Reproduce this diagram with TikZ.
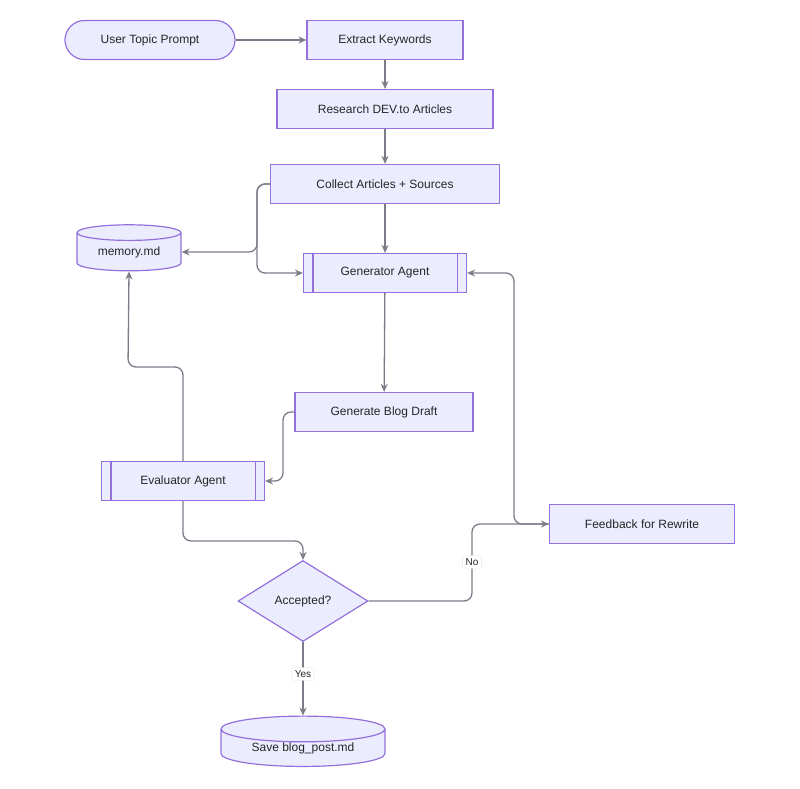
\documentclass[tikz,border=0pt]{standalone}
\usepackage{fontspec}
\setmainfont{Liberation Sans}
\usetikzlibrary{shapes.geometric,shapes.multipart,arrows.meta}
\definecolor{nfill}{HTML}{ECECFF}
\definecolor{nborder}{HTML}{9370DB}
\definecolor{lcol}{HTML}{7C7C88}
\begin{document}
\begin{tikzpicture}[x=1pt,y=-1pt,
 every node/.style={font=\fontsize{12}{14}\selectfont, text=black!85},
 box/.style={draw=nborder,fill=nfill,line width=1.2pt,minimum height=39pt,inner sep=0pt},
 stad/.style={box,rounded corners=19.5pt},
 cyl/.style={cylinder,shape border rotate=90,aspect=0.25,draw=nborder,fill=nfill,line width=1.2pt,inner sep=0pt},
 dia/.style={diamond,draw=nborder,fill=nfill,line width=1.2pt,minimum width=130pt,minimum height=81pt,inner sep=0pt},
 ln/.style={draw=lcol,line width=1.3pt,rounded corners=8pt,-{Stealth[length=8pt,width=7pt]}},
 lab/.style={fill=white,draw=black!10,rounded corners=2pt,font=\fontsize{10}{12}\selectfont,inner sep=3pt}]
\useasboundingbox (0,0) rectangle (800,789);
\node[stad,minimum width=170pt] (u) at (150,40) {User Topic Prompt};
\node[box,minimum width=156pt] (k) at (385,40) {Extract Keywords};
\node[box,minimum width=216pt] (r) at (385,109) {Research DEV.to Articles};
\node[box,minimum width=229pt] (c) at (385,184) {Collect Articles + Sources};
\node[cyl,minimum width=104pt,minimum height=46pt] (m) at (129,252) {memory.md};
\node[box,minimum width=163pt] (g) at (385,273) {Generator Agent};
\draw[nborder,line width=1.2pt] ([xshift=10pt]g.north west)--([xshift=10pt]g.south west) ([xshift=-10pt]g.north east)--([xshift=-10pt]g.south east);
\node[box,minimum width=178pt] (d) at (384,412) {Generate Blog Draft};
\node[box,minimum width=163pt] (e) at (183,481) {Evaluator Agent};
\draw[nborder,line width=1.2pt] ([xshift=10pt]e.north west)--([xshift=10pt]e.south west) ([xshift=-10pt]e.north east)--([xshift=-10pt]e.south east);
\node[box,minimum width=185pt] (f) at (642,524) {Feedback for Rewrite};
\node[dia] (a) at (303,601) {Accepted?};
\node[cyl,minimum width=164pt,minimum height=47pt] (s) at (303,748) {Save blog\_post.md};
\draw[ln] (u) -- (k);
\draw[ln] (k) -- (r);
\draw[ln] (r) -- (c);
\draw[ln] (c.west) -- (257,184) -- (257,252) -- (m.east);
\draw[ln] (c.west) -- (257,184) -- (257,273) -- (g.west);
\draw[ln] (c) -- (g);
\draw[ln] (g) -- (d);
\draw[ln] (d.west) -- (283,412) -- (283,481) -- (e.east);
\draw[ln] (e.north) -- (183,367) -- (128,367) -- (m.bottom);
\draw[ln] (e.south) -- (183,541) -- (303,541) -- (a.north);
\draw[ln] (a.east) -- (472,601) -- (472,524) -- (f.west);
\draw[ln] (f.west) -- (514,524) -- (514,273) -- (g.east);
\draw[ln] (a) -- (s.top);
\node[lab] (no) at (472,562) {No};
\node[lab] (yes) at (303,674) {Yes};
\end{tikzpicture}
\end{document}
